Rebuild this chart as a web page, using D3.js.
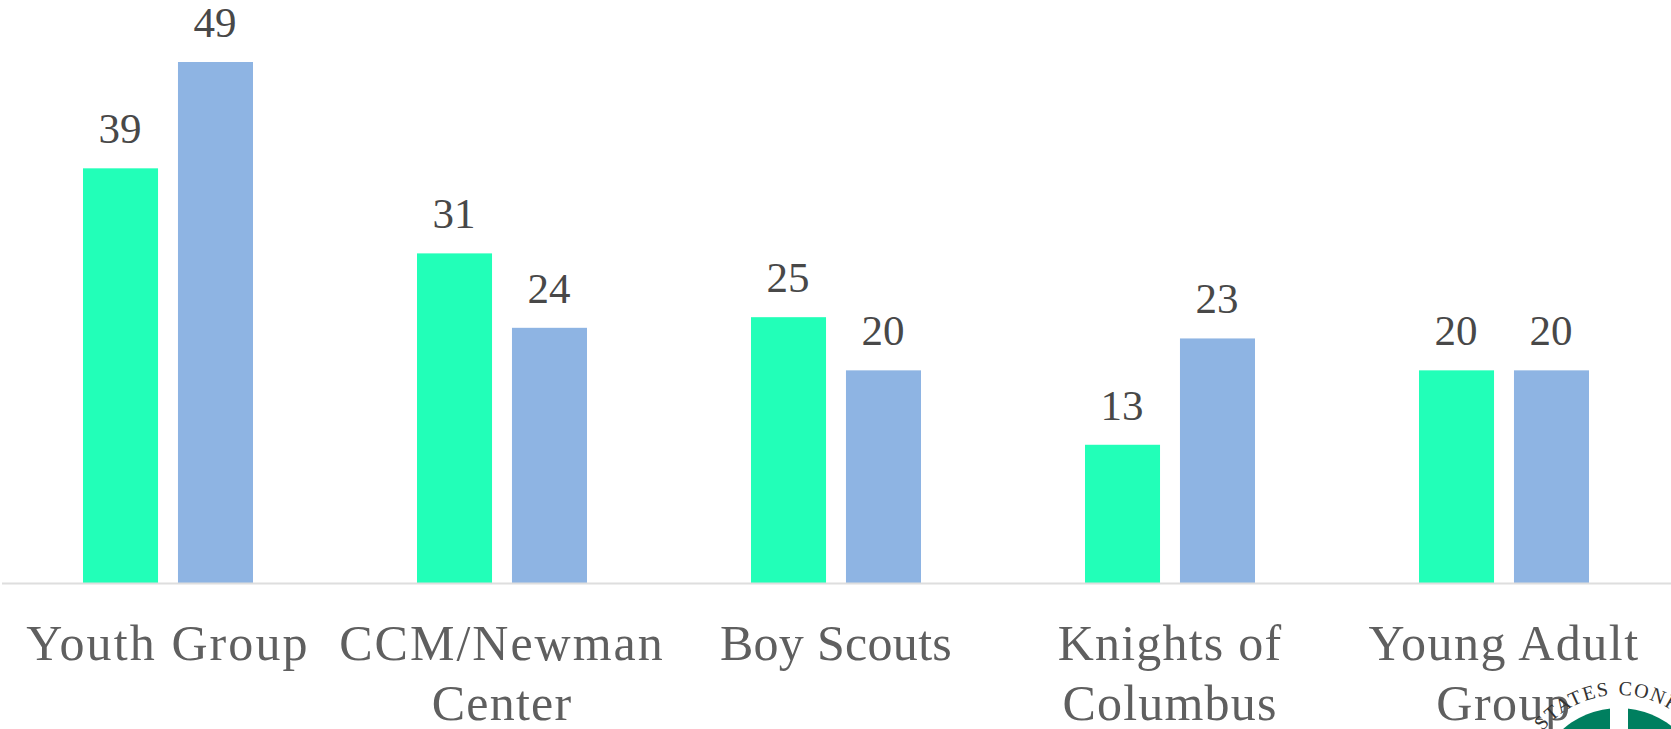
<!DOCTYPE html>
<html><head><meta charset="utf-8">
<script src="https://cdn.jsdelivr.net/npm/d3@7"></script>
<style>html,body{margin:0;padding:0;background:#fff;overflow:hidden}svg{display:block}</style>
</head><body><div id="c"></div>
<script>
const categories=[["Youth Group"],["CCM/Newman","Center"],["Boy Scouts"],["Knights of","Columbus"],["Young Adult","Group"]];
const seriesA=[39,31,25,13,20];
const seriesB=[49,24,20,23,20];
const colors=["#22FFB8","#8EB4E3"];
const labelTracking=[[2.1],[2.0,1.2],[0.3],[1.2,1.2],[1.5,1.5]];
const W=1671,H=729,base=583;
const serif='"Liberation Serif","DejaVu Serif",serif';
const svg=d3.select("#c").append("svg").attr("width",W).attr("height",H).attr("viewBox",`0 0 ${W} ${H}`);
const x=d3.scaleBand().domain(categories.map((d,i)=>i)).range([1,1671]);
const y=d3.scaleLinear().domain([0,49]).range([base,62]);
const xs=d3.scaleBand().domain([0,1]).range([0,170]).paddingInner(0.21);
[seriesA,seriesB].forEach((vals,s)=>{
  const gx=i=>x(i)+x.bandwidth()/2-85+xs(s);
  svg.append("g").selectAll("rect").data(vals).join("rect")
    .attr("x",(d,i)=>gx(i)).attr("y",d=>y(d)).attr("width",xs.bandwidth()).attr("height",d=>base-y(d)).attr("fill",colors[s]);
  svg.append("g").selectAll("text").data(vals).join("text")
    .attr("x",(d,i)=>gx(i)+xs.bandwidth()/2-0.5).attr("y",d=>y(d)-25).attr("text-anchor","middle")
    .attr("font-family",serif).attr("font-size",43).attr("fill","#484848").text(d=>d);
});
svg.append("line").attr("x1",2).attr("x2",W).attr("y1",base+0.5).attr("y2",base+0.5).attr("stroke","#DEDEDE").attr("stroke-width",2);
const lab=svg.append("g");
categories.forEach((lines,i)=>{
  lines.forEach((t,j)=>{
    lab.append("text").attr("x",x(i)+x.bandwidth()/2).attr("y",660+j*60).attr("text-anchor","middle")
      .attr("font-family",serif).attr("font-size",50).attr("letter-spacing",labelTracking[i][j]).attr("fill","#5f5f5f").text(t);
  });
});
// logo, clipped by the page corner
const cx=1619,cy=793,r=85;
const logo=svg.append("g");
logo.append("circle").attr("cx",cx).attr("cy",cy).attr("r",r).attr("fill","#007F5F");
logo.append("rect").attr("x",cx-9).attr("y",cy-r-2).attr("width",18).attr("height",r).attr("fill","#fff");
svg.append("defs").append("path").attr("id","arc").attr("d",`M ${cx-98} ${cy} A 98 98 0 0 1 ${cx+98} ${cy}`);
const arcText=(t,anchor,off)=>logo.append("text").attr("font-family",serif).attr("font-size",20).attr("letter-spacing",1.5).attr("fill","#333")
  .append("textPath").attr("href","#arc").attr("startOffset",off).attr("text-anchor",anchor).text(t);
arcText("UNITED STATES","end",145);
arcText("CONFERENCE","start",153);
</script></body></html>
